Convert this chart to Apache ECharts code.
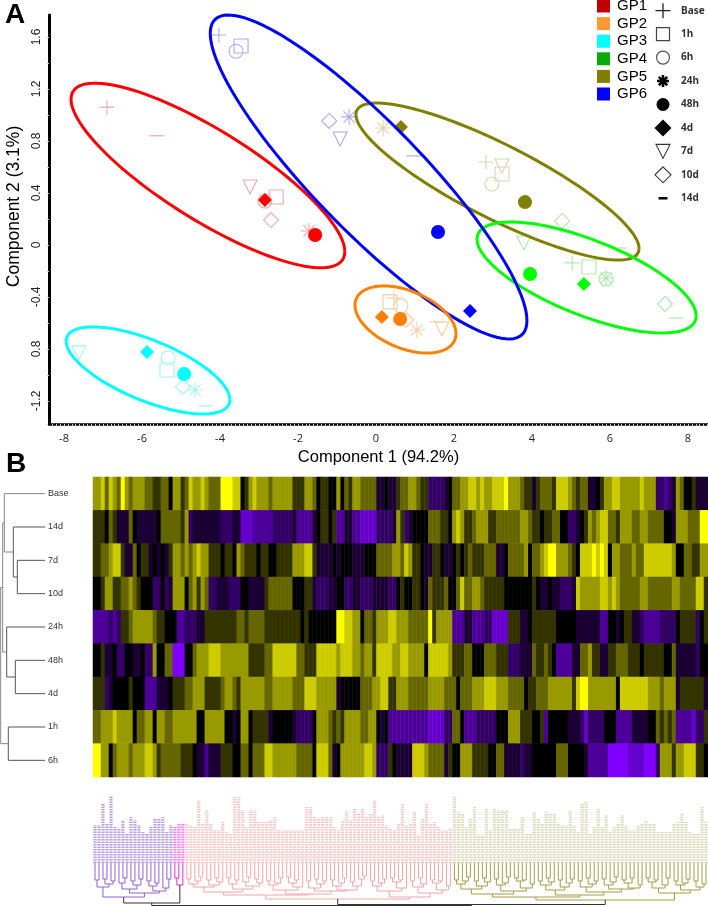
<!DOCTYPE html>
<html>
<head>
<meta charset="utf-8">
<style>html,body{margin:0;padding:0;background:#fff}#c{width:708px;height:906px}</style>
<script src="https://cdn.jsdelivr.net/npm/echarts@6/dist/echarts.min.js"></script>
</head>
<body>
<div id="c"></div>
<script>
// ---------- Panel A data ----------
const timeNames = ['Base','1h','6h','24h','48h','4d','7d','10d','14d'];
const groupNames = ['GP1','GP2','GP3','GP4','GP5','GP6'];
// points in the order of timeNames: [component 1, component 2]
const gp1 = [[-6.9,1.06],[-2.56,.369],[-2.85,.338],[-1.72,.108],[-1.56,.077],[-2.85,.346],[-3.23,.446],[-2.69,.192],[-5.62,.84]];
const gp2 = [[.46,-.408],[.36,-.438],[.64,-.469],[1.05,-.654],[.62,-.569],[.15,-.554],[1.69,-.646],[.77,-.577],[1.56,-.592]];
const gp3 = [[-4.87,-1.015],[-5.36,-.962],[-5.33,-.869],[-4.64,-1.115],[-4.92,-.992],[-5.87,-.823],[-7.62,-.83],[-4.95,-1.092],[-4.36,-1.238]];
const gp4 = [[5.03,-.138],[5.46,-.169],[5.9,-.262],[5.9,-.254],[3.95,-.223],[5.33,-.3],[3.79,.015],[7.41,-.454],[7.69,-.562]];
const gp5 = [[2.82,.638],[3.23,.546],[2.97,.469],[.18,.9],[3.82,.33],[.64,.908],[3.23,.608],[4.77,.185],[6.23,-.023]];
const gp6 = [[-4.03,1.615],[-3.46,1.53],[-3.59,1.49],[-.69,.985],[1.59,.1],[2.41,-.508],[-.92,.815],[-1.2,.954],[.97,.685]];
// confidence ellipses: centre x, centre y, half width, half height, correlation
const ellipseGP1 = [-4.31,.535,3.51,.71,-.825];
const ellipseGP2 = [.756,-.573,1.295,.258,-.426];
const ellipseGP3 = [-5.846,-.965,2.10,.335,-.67];
const ellipseGP4 = [5.40,-.25,2.81,.427,-.69];
const ellipseGP5 = [3.115,.488,3.63,.604,-.852];
const ellipseGP6 = [-.19,.523,4.06,1.246,-.886];
const xTickValues = [-8,-6,-4,-2,0,2,4,6,8];
const yTickValues = [-1.2,-.8,-.4,0,.4,.8,1.2,1.6];
const yTickLabels = ['-1.2','0.8','-0.4','0','0.4','0.8','1.2','1.6'];

// ---------- Panel B data ----------
const rowNames = ['Base','14d','7d','10d','24h','48h','4d','1h','6h'];
const rowBase = [3,3,4,2,4,3,2,5,3,2, 3,3,3,2,2,1,1,2,2,0, 3,3,1,2,4,3,3,4,3,2, 2,2,5,5,5,4,4,0,1,3, 4,3,3,3,2,3,3,3,3,3, 1,1,1,3,3,2,0,1,1,0, 0,3,0,2,1,
 3,3,2,2,2,2,-1,-1,0,-1, -1,1,2,2,3,3,2,1,1,-2, -2,-2,-2,-1,0,2,2,3,3,4, 4,3,4,3,3,4,4,4,5,3, 3,3,2,1,1,-1,1,2,2,2, 1,4,4,4,3,2,1,2,2,-1, -1,0,1,3,3,4,4,3,3,3, 3,3,4,3,3,3,-2,-2,-3,-2, -1,3,2,0,0,1,-1,-1,-1];
const row14d = [1,1,1,0,2,1,-1,-1,-1,2, 0,-1,-1,-1,-1,-1,0,2,2,2, 2,2,1,3,-2,-1,-1,-1,-1,-1, -1,-1,-2,-2,-2,-1,-1,-4,-4,-4, -3,-3,-3,-3,-3,-2,-2,-2,-2,-2, -1,-3,-3,-3,-3,-1,0,1,1,0, 1,-3,-3,-1,-1,
 -3,-3,-4,-4,-4,-4,-2,-2,-2,-2, -1,3,1,-2,-1,0,0,0,0,2, 2,2,1,1,0,3,4,3,1,1, 2,3,3,3,1,1,2,2,2,2, 2,2,3,3,2,1,1,0,1,1, 2,2,0,0,-2,-2,-1,0,1,3, 2,3,4,4,2,2,1,3,3,3, 2,2,3,3,2,2,2,2,0,0, -1,3,3,3,2,2,2,5,5];
const row7d = [1,1,2,2,3,4,4,1,-1,-1, 2,0,1,1,-1,0,-1,0,-1,1, 3,3,2,3,2,3,4,3,3,1, 1,1,0,1,1,0,3,2,1,1, 1,0,1,1,0,0,1,1,1,1, 3,3,3,4,4,1,-1,-1,-1,-1, 0,-1,0,0,0,
 -1,-1,-1,0,0,0,2,2,2,2, 3,3,2,4,3,1,1,0,-1,-1, 1,1,0,-1,-1,0,1,0,1,2, 1,1,1,2,2,2,-1,-1,0,2, 2,2,2,3,0,2,2,3,4,5, 5,3,3,3,2,1,0,4,4,4, 5,4,5,4,0,3,3,2,2,2, 3,2,2,4,4,4,4,4,4,4, 3,0,0,2,2,1,1,3,3];
const row10d = [0,0,1,3,3,1,1,2,2,3, 2,1,0,0,0,-2,-2,0,-2,-1, 3,3,3,0,2,3,1,3,2,-2, -2,-1,-1,-1,-2,-2,-2,0,0,-1, -1,-1,-1,1,2,2,2,2,2,2, 0,0,0,1,1,-1,-2,-2,-2,-1, -1,0,0,-2,-2,
 -1,-1,-2,-2,-2,-1,-1,-1,-1,-2, -2,0,1,0,0,1,1,0,-1,2, 1,1,1,2,0,0,2,4,2,2, 3,3,2,1,1,1,1,1,0,0, 0,0,0,0,0,1,0,-1,-1,0, -1,-1,-2,-2,-2,-1,4,3,3,3, 3,3,4,4,3,4,3,2,2,2, 2,2,3,3,2,2,2,2,2,2, 3,3,2,2,2,2,4,4,1];
const row24h = [-3,-3,-3,-3,-2,-3,-2,1,1,2, 3,3,3,3,3,2,1,1,0,0, 0,-3,-3,-2,-2,-2,-1,-1,1,1, 1,1,1,1,1,1,2,2,1,2, 2,2,2,1,1,1,1,1,1,1, 1,1,0,1,0,0,0,0,0,0, 0,5,5,4,4,
 3,3,0,2,2,1,3,3,3,4, 4,3,3,3,2,2,2,2,2,5, 1,3,3,3,3,-3,-3,-3,-1,-1, -3,-3,-3,-2,-2,-4,-4,-4,-4,1, 1,1,-1,-1,0,1,1,1,1,1, 1,0,0,0,0,0,-1,-1,-1,-1, -1,-1,-3,-3,0,0,-1,0,1,1, -1,-1,-2,-3,-3,-3,-3,-2,-2,-2, -2,0,1,1,1,1,-2,0,1];
const row48h = [0,0,1,-1,-1,0,-2,-2,0,0, -1,-1,0,-2,-2,3,0,0,2,2, -5,-5,-5,0,0,2,3,3,3,4, 4,4,3,3,3,3,3,3,3,1, 1,1,1,2,2,4,4,4,4,4, 4,2,2,1,1,1,4,4,4,4, 4,3,4,4,4,
 3,3,2,3,3,1,4,4,4,4, 3,3,4,4,3,3,3,3,0,4, 4,4,4,4,3,1,1,1,2,2, 0,0,0,2,2,2,1,1,1,-2, -2,-2,-1,-1,-1,2,1,1,2,1, 0,-3,-3,-3,-3,-1,-1,2,2,3, 1,1,-1,-1,1,1,2,2,2,1, 1,1,0,1,1,1,1,1,0,0, 2,-1,-1,-1,-1,-1,-2,0,0];
const row4d = [1,1,1,-2,-1,0,0,0,0,1, 0,0,0,-3,-3,-3,-1,-1,-1,0, 1,1,1,2,2,3,3,3,1,1, 1,1,2,3,3,2,1,3,3,3, 3,3,3,2,2,3,3,3,3,3, 2,2,2,4,4,4,3,3,3,3, 3,-1,0,0,0,
 0,0,2,2,2,3,3,4,4,1, 1,3,3,3,2,2,2,2,2,3, 3,3,3,2,2,2,0,2,2,2, 3,3,3,4,4,4,3,3,3,2, 2,2,2,0,1,1,2,2,2,3, 3,3,3,3,3,1,4,5,5,3, 3,3,3,3,3,3,0,4,4,4, 4,4,4,4,3,3,3,2,3,3, 3,-1,1,1,1,1,1,1,-1];
const row1h = [2,2,3,3,3,4,3,3,3,3, 0,2,2,3,3,0,3,3,2,2, 3,3,3,3,3,3,0,0,3,3, 3,3,3,0,0,-1,0,3,3,0, 1,1,1,1,-1,0,0,0,0,0, -1,-2,-2,-2,-2,0,3,3,3,2, 1,2,1,3,3,
 3,3,2,2,3,3,0,-1,0,-3, -3,-3,-3,-3,-3,-3,-3,-3,-3,-4, -4,-4,-4,-2,-2,2,2,0,-3,-3, -3,-2,-2,-2,-2,-2,0,0,0,3, 3,3,1,1,1,0,0,1,-3,0, 0,0,0,0,-1,-1,-1,-2,-4,-2, -2,-2,-2,0,0,0,-3,-3,-3,-3, -1,-1,-1,-1,0,0,2,1,2,1, 2,-3,-3,-3,-3,-4,-2,-2,1];
const row6h = [5,5,3,3,0,2,3,3,3,2, 3,3,3,4,4,3,1,2,2,2, 2,2,1,1,1,0,-1,-1,-3,-1, -1,-1,1,1,1,0,0,2,2,0, 2,2,2,4,4,3,3,3,3,3, 3,2,2,2,2,0,4,4,4,2, -1,0,3,3,3,
 3,3,3,4,4,3,-2,-2,-2,1, 0,-1,-1,-1,-1,4,4,4,3,2, 2,2,2,-1,1,0,0,3,3,3, 1,1,1,1,0,0,2,2,-1,-1, -1,-1,-2,-1,-1,0,0,0,0,0, 0,2,2,2,0,0,0,0,-1,-3, -3,-3,-3,-3,-5,-5,-5,-5,-5,-4, -4,-4,-4,-5,-5,-5,-2,3,3,3, 1,3,3,4,4,4,1,1,0];
// sample tree: [height, child, child]; a number is a row index
const sampleTree = [44.3,
  [42.3,
    [40.7,0,[31.7,1,[27.7,2,3]]],
    [38.3,4,[29.7,5,6]]],
  [36.7,7,8]];
// gene label lengths, one per heat-map column
const geneLabelLengths = [38,38,59,39,67,36,34,43,29,46, 43,38,31,29,36,44,44,46,31,38, 36,39,39,39,38,36,63,39,53,39, 33,33,41,31,29,66,66,53,36,53, 53,41,41,41,43,46,33,33,33,33, 33,33,33,56,56,46,44,46,46,46, 36,33,43,51,43,54,49,54,46,49, 63,46,48,38,34,33,39,59,38,39, 51,28,44,59,39,41,36,33,33,34, 66,51,49,36,44,56,28,28,54,33, 54,53,53,53,34,34,34,46,29,29, 51,44,39,51,49,49,39,38,38,53, 38,31,59,61,29,36,54,36,48,31, 36,39,48,38,33,33,38,39,43,39, 39,31,31,31,31,39,41,49,41,31, 29,29,56,41];
// gene tree clusters: [depth, child, child]; 0 is a leaf
const purpleTree = [34,[24,[17,0,0],[21,[16,0,0],[18,0,0]]],[30,[26,[20,0,[15,0,0]],[22,[18,0,0],[16,0,0]]],[28,[23,[18,0,0],[20,0,0]],[25,0,[16,0,0]]]]];
const magentaTree = [22,[15,0,0],0];
const pinkTree = [36,
  [32,
    [29,[24,[21,[16,0,0],[18,0,[14,0,0]]],[22,[17,0,0],[19,[15,0,0],0]]],[26,[21,[15,0,0],[17,0,0]],[23,[19,0,[14,0,0]],[20,[16,0,0],0]]]],
    [31,[27,[22,[18,0,0],[20,0,[15,0,0]]],[24,[20,[14,0,0],[17,0,0]],0]],[28,[25,[18,0,0],[21,[16,0,0],[18,0,0]]],[27,[23,[17,0,0],[20,0,[15,0,0]]],[23,[19,0,0],[16,0,[13,0,0]]]]]]],
  [34,[28,[23,[18,0,0],[20,0,[16,0,0]]],[25,[19,[15,0,0],[17,0,0]],0]],[30,[24,[18,0,0],[21,[15,0,0],0]],[27,[20,[17,0,0],[18,0,0]],[23,0,0]]]]];
const oliveTree = [37,
  [34,
    [31,[26,[21,[17,0,0],[18,0,[14,0,0]]],[23,[18,0,0],[19,[15,0,0],0]]],[28,[22,[16,0,0],[20,0,[14,0,0]]],[25,[18,[15,0,0],[17,0,0]],[21,0,0]]]],
    [32,[27,[22,[18,0,0],[19,[15,0,0],0]],[24,[17,0,0],[20,0,[16,0,0]]]],[29,[24,[18,0,0],[21,[15,0,0],[18,0,0]]],[26,[22,[16,0,0],[19,0,[14,0,0]]],[25,[20,[17,0,0],[15,0,0]],[22,0,0]]]]]],
  [30,[25,[19,[15,0,0],[17,0,0]],[22,0,[15,0,0]]],[27,[22,[18,0,0],[20,0,[16,0,0]]],[24,[18,0,0],[21,0,0]]]]];
const geneTree = [42.5,[40,purpleTree,magentaTree],[41.5,pinkTree,oliveTree]];

// ---------- Styling ----------
const solidColors = ['#ff0000','#ff8000','#00ffff','#00ff00','#808000','#0000ff'];
const paleColors = ['#e8abab','#f0cfa8','#a8f2f2','#ade8ad','#d6d6ae','#adade8'];
const swatchColors = ['#c00000','#ff9933','#00ffff','#0aaa0a','#808000','#0000ff'];
const groupData = [gp1,gp2,gp3,gp4,gp5,gp6];
const groupEllipses = [ellipseGP1,ellipseGP2,ellipseGP3,ellipseGP4,ellipseGP5,ellipseGP6];
const ellipseOrder = [0,4,3,5,1,2];
const PLUS='path://M0 10L20 10M10 0L10 20';
const STAR='path://M0 10L20 10M10 0L10 20M3 3L17 17M17 3L3 17';
const TRI='path://M0 0L20 0L10 20Z';
const symbolFor = {Base:[PLUS,15],'1h':['rect',14],'6h':['circle',14],'24h':[STAR,16],'48h':['circle',14],'4d':['diamond',14],'7d':[TRI,14],'10d':['diamond',15],'14d':['rect',[15,1.2]]};
const filledTimes = new Set(['48h','4d']);
function pointItem(pt,i,g){
  const t=timeNames[i], s=symbolFor[t];
  const filled=filledTimes.has(t);
  const dash=t==='14d';
  return {value:pt,symbol:s[0],symbolSize:s[1],itemStyle:{
    opacity:1,
    color:filled?solidColors[g]:(dash?paleColors[g]:'rgba(255,255,255,0)'),
    borderColor:filled||dash?'rgba(0,0,0,0)':paleColors[g],
    borderWidth:filled||dash?0:1.1}};
}
const keyStyle = {
  Base:{size:15,c:'rgba(0,0,0,0)',b:'#222',w:1.3},'1h':{size:13,c:'#fff',b:'#444',w:1.2},'6h':{size:13,c:'#fff',b:'#555',w:1.2},
  '24h':{size:12,c:'rgba(0,0,0,0)',b:'#000',w:2.5},'48h':{size:13,c:'#000',b:'#000',w:0},'4d':{size:17,c:'#000',b:'#000',w:0},
  '7d':{size:14,c:'#fff',b:'#333',w:1.1},'10d':{size:16,c:'#fff',b:'#333',w:1.1},'14d':{size:[9,2.5],c:'#000',b:'#000',w:0}
};
function keyItem(t){
  const k=keyStyle[t];
  return {value:[0,t],symbol:symbolFor[t][0],symbolSize:k.size,itemStyle:{opacity:1,color:k.c,borderColor:k.b,borderWidth:k.w}};
}
function range(a,b,s){const o=[];for(let i=0;i*s<=b-a+1e-9;i++)o.push(+(a+i*s).toFixed(4));return o;}

// ---------- Tree layout ----------
const sampleSegs=[];
(function walk(n){
  if(typeof n==='number')return {p:n,h:0};
  const a=walk(n[1]),b=walk(n[2]),h=n[0];
  sampleSegs.push([a.h,a.p,h,a.p],[b.h,b.p,h,b.p],[h,a.p,h,b.p]);
  return {p:(a.p+b.p)/2,h};
})(sampleTree);
const geneSegs=[];
let leaf=0;
const treeColor=new Map([[purpleTree,'#8f63cf'],[magentaTree,'#e22be2'],[pinkTree,'#f2a6a6'],[oliveTree,'#a39c48']]);
(function walk(n,col){
  if(n===0){leaf++;return {p:leaf-.5,h:0};}
  const c=treeColor.get(n)||col;
  const a=walk(n[1],c),b=walk(n[2],c),h=n[0];
  geneSegs.push([a.p,a.h,a.p,h,c],[b.p,b.h,b.p,h,c],[a.p,h,b.p,h,c]);
  return {p:(a.p+b.p)/2,h};
})(geneTree,'#333');
const geneSizes=[20,3,67,64];
const geneLabelColors=['#b9a2e2','#ff7dff','#f6c9c9','#dcdcbc'];
function geneColor(k){let s=0;for(let i=0;i<4;i++){s+=geneSizes[i];if(k<s)return geneLabelColors[i];}return geneLabelColors[3];}

// ---------- Heat map data ----------
const heatRows=[rowBase,row14d,row7d,row10d,row24h,row48h,row4d,row1h,row6h];
const columns=geneLabelLengths.map((_,i)=>String(i));
const heatData=[];
heatRows.forEach((r,y)=>r.forEach((v,x)=>heatData.push([x,y,v])));

// ---------- Series ----------
const scatterSeries=groupNames.map((name,g)=>({
  name,type:'scatter',xAxisIndex:0,yAxisIndex:0,z:2,silent:true,
  itemStyle:{color:swatchColors[g],opacity:1},
  data:groupData[g].map((p,i)=>pointItem(p,i,g)).sort((a,b)=>(a.itemStyle.borderWidth?0:1)-(b.itemStyle.borderWidth?0:1))
}));
const ellipseSeries={
  type:'custom',name:'Confidence ellipses',xAxisIndex:0,yAxisIndex:0,z:3,silent:true,
  data:ellipseOrder.map(g=>[...groupEllipses[g],g]),
  encode:{x:0,y:1},
  renderItem(p,api){
    const cx=api.value(0),cy=api.value(1),hw=api.value(2),hh=api.value(3),rho=api.value(4),g=api.value(5);
    const pts=[];
    for(let i=0;i<=120;i++){
      const t=i/120*2*Math.PI;
      pts.push(api.coord([cx+hw*Math.cos(t),cy+hh*(rho*Math.cos(t)+Math.sqrt(1-rho*rho)*Math.sin(t))]));
    }
    return {type:'polyline',shape:{points:pts},style:{stroke:solidColors[g],fill:'none',lineWidth:3}};
  }
};
const keySeries={type:'scatter',name:'Time key',xAxisIndex:1,yAxisIndex:1,silent:true,data:timeNames.map(keyItem)};
const heatSeries={type:'heatmap',name:'Expression',xAxisIndex:2,yAxisIndex:2,silent:true,data:heatData,itemStyle:{borderWidth:0},progressive:0};
const sampleSeries={
  type:'custom',name:'Sample tree',xAxisIndex:3,yAxisIndex:3,silent:true,data:sampleSegs,encode:{x:[0,2],y:[1,3]},
  renderItem(p,api){
    const a=api.coord([api.value(0),api.value(1)]),b=api.coord([api.value(2),api.value(3)]);
    return {type:'line',shape:{x1:a[0],y1:a[1],x2:b[0],y2:b[1]},style:{stroke:api.value(2)>40?'#888':'#555',lineWidth:1}};
  }
};
const labelSeries={
  type:'custom',name:'Gene labels',xAxisIndex:4,yAxisIndex:4,silent:true,
  data:geneLabelLengths.map((v,i)=>[i+.5,v]),encode:{x:0,y:1},
  renderItem(p,api){
    const k=api.value(0)-.5;
    const a=api.coord([api.value(0),0]),b=api.coord([api.value(0),api.value(1)]);
    return {type:'line',shape:{x1:a[0],y1:a[1],x2:b[0],y2:b[1]},style:{stroke:geneColor(k),lineWidth:3.2,lineDash:[1.5,1]}};
  }
};
const geneTreeSeries={
  type:'custom',name:'Gene tree',xAxisIndex:5,yAxisIndex:5,silent:true,
  data:geneSegs.map(s=>[s[0],s[1],s[2],s[3]]),encode:{x:[0,2],y:[1,3]},
  renderItem(p,api){
    const a=api.coord([api.value(0),api.value(1)]),b=api.coord([api.value(2),api.value(3)]);
    return {type:'line',shape:{x1:a[0],y1:a[1],x2:b[0],y2:b[1]},style:{stroke:geneSegs[p.dataIndex][4],lineWidth:1}};
  }
};

const hiddenX=(i,min,max)=>({type:'value',gridIndex:i,min,max,show:false});
const chart=echarts.init(document.getElementById('c'),null,{renderer:'canvas'});
chart.setOption({
  animation:false,
  backgroundColor:'#fff',
  textStyle:{fontFamily:'Liberation Sans'},
  legend:{
    left:597,top:-1.5,padding:0,orient:'vertical',itemWidth:13,itemHeight:13,itemGap:2.6,selectedMode:false,
    textStyle:{fontFamily:'Liberation Sans',fontSize:15,color:'#000',padding:[0,0,0,2]},
    data:groupNames.map((name,g)=>({name,icon:'rect',itemStyle:{color:swatchColors[g],borderWidth:0,opacity:1}}))
  },
  grid:[
    {left:49,top:15,width:659,height:409,outerBoundsMode:'none'},
    {left:655,top:-1,width:16,height:211,outerBoundsMode:'none'},
    {left:93,top:477,width:615,height:300,outerBoundsMode:'none'},
    {left:0,top:477,width:45,height:300,outerBoundsMode:'none'},
    {left:93,top:796,width:615,height:67,outerBoundsMode:'none'},
    {left:93,top:863,width:615,height:43,outerBoundsMode:'none'}
  ],
  xAxis:[
    {type:'value',gridIndex:0,min:-8.385,max:8.513,name:'Component 1 (94.2%)',nameLocation:'middle',nameGap:25,
     nameTextStyle:{fontFamily:'Liberation Sans',fontSize:16.5,color:'#000'},
     axisLine:{onZero:false,lineStyle:{color:'#000',width:2.5}},
     axisTick:{show:true,length:2,customValues:range(-8.3,8.5,.1),lineStyle:{color:'#ccc',width:1}},
     axisLabel:{customValues:xTickValues,fontFamily:'Open Sans',fontSize:11,color:'#222',margin:9,formatter:v=>String(v)},
     splitLine:{show:false}},
    {type:'value',gridIndex:1,min:-1,max:1,show:false},
    {type:'category',gridIndex:2,data:columns,show:false},
    {type:'value',gridIndex:3,min:0,max:45,inverse:true,show:false},
    hiddenX(4,0,154),
    hiddenX(5,0,154)
  ],
  yAxis:[
    {type:'value',gridIndex:0,min:-1.377,max:1.769,name:'Component 2 (3.1%)',nameLocation:'middle',nameGap:24,
     nameTextStyle:{fontFamily:'Liberation Sans',fontSize:17.5,color:'#000',padding:[0,0,0,26]},
     axisLine:{onZero:false,lineStyle:{color:'#000',width:3}},
     axisTick:{show:true,length:2,customValues:range(-1.2,1.6,.2),lineStyle:{color:'#ccc',width:1}},
     axisLabel:{customValues:yTickValues,rotate:90,fontFamily:'Liberation Sans',fontSize:12,color:'#222',margin:6,
       formatter:v=>yTickLabels[yTickValues.findIndex(t=>Math.abs(t-v)<1e-6)]},
     splitLine:{show:false}},
    {type:'category',gridIndex:1,data:timeNames,inverse:true,position:'right',
     axisLine:{show:false},axisTick:{show:false},
     axisLabel:{fontFamily:'Noto Sans',fontWeight:'bold',fontSize:10,color:'#333',margin:10}},
    {type:'category',gridIndex:2,data:rowNames,inverse:true,show:false},
    {type:'value',gridIndex:3,min:-.5,max:8.5,inverse:true,position:'right',
     axisLine:{show:false},axisTick:{show:false},splitLine:{show:false},
     axisLabel:{customValues:rowNames.map((_,i)=>i),fontFamily:'Liberation Sans',fontSize:9,color:'#333',margin:3,formatter:v=>rowNames[v]}},
    {type:'value',gridIndex:4,min:0,max:67,show:false},
    {type:'value',gridIndex:5,min:0,max:43,inverse:true,show:false}
  ],
  visualMap:{show:false,seriesIndex:[7],min:-5,max:5,dimension:2,inRange:{color:['#8000ff','#000000','#ffff00']}},
  series:[...scatterSeries,ellipseSeries,heatSeries,keySeries,sampleSeries,labelSeries,geneTreeSeries],
  graphic:[
    {type:'text',left:5,top:1,style:{text:'A',font:'bold 28px "Liberation Sans"',fill:'#000'}},
    {type:'text',left:6,top:450,style:{text:'B',font:'bold 28px "Liberation Sans"',fill:'#000'}}
  ]
});
</script>
</body>
</html>
